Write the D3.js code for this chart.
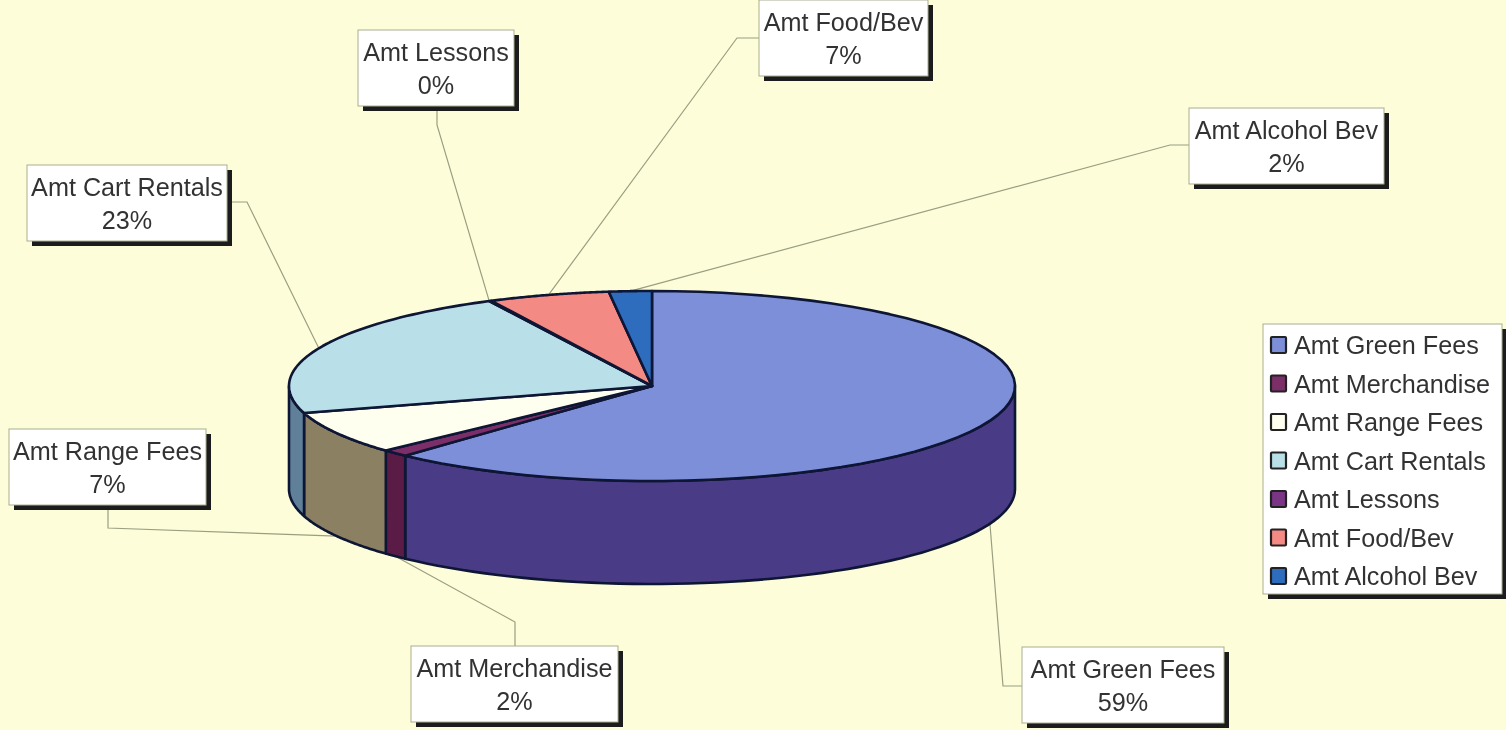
<!DOCTYPE html>
<html><head><meta charset="utf-8">
<script src="https://cdn.jsdelivr.net/npm/d3@7/dist/d3.min.js"></script>
<style>html,body{margin:0;padding:0;background:#fdfdd9;overflow:hidden}svg{display:block}
text{font-family:"Liberation Sans",Arial,sans-serif;fill:#333;font-size:25.2px}</style>
</head><body><svg id="c" width="1506" height="730"></svg>
<script>
// Data
const categories = ["Amt Green Fees","Amt Merchandise","Amt Range Fees","Amt Cart Rentals","Amt Lessons","Amt Food/Bev","Amt Alcohol Bev"];
const percentLabels = ["59%","2%","7%","23%","0%","7%","2%"];
// slice sizes as actually drawn on the ellipse
const sliceShares = [61.9,1.2,7.3,22.2,0.1,5.4,1.9];
const topColors = ["#7d8fd8","#7c2f68","#fffff0","#b9e0e8","#7a3585","#f48a84","#2f6cbe"];
const wallColors = ["#4a3a86","#5a1f46","#8c8064","#60809a","#4a2060","#904040","#1c3f78"];
// layout of the callouts: box [x,y,w,h], elbow [x,y], box exit [x,y]
const boxes = [[1022,647,202,76],[411,646,207,76],[9,429,197,76],[27,165,200,76],[358,30,156,76],[759,0,169,76],[1189,108,195,76]];
const exits = [[1022,686],[515,646],[108,505],[227,202],[437,106],[759,38],[1189,145]];
const elbows = [[1003,686],[515,622],[108,528],[247,202],[437,125],[737,38],[1170,145]];

const W=1506,H=730,cx=652,cy=386,rx=363,ry=95,depth=103;
const svg=d3.select("#c");
const defs=svg.append("defs");
defs.append("filter").attr("id","soft").attr("x","-5%").attr("y","-5%").attr("width","110%").attr("height","110%")
  .append("feGaussianBlur").attr("stdDeviation",0.7);
const root=svg.append("g").attr("filter","url(#soft)");
const OUT="#0e1434";

const px=d3.scaleLinear().domain([-1,1]).range([cx-rx,cx+rx]);
const py=d3.scaleLinear().domain([-1,1]).range([cy-ry,cy+ry]);
const proj=(a,dz=0)=>[px(Math.sin(a)),py(-Math.cos(a))+dz];
const arcs=d3.pie().sort(null).value(d=>d)(sliceShares);
const steps=(a0,a1)=>d3.range(0,61).map(i=>a0+(a1-a0)*i/60);

// leader lines below pie
const line=d3.line();
const lowSide=a=>a>Math.PI/2&&a<3*Math.PI/2;
root.append("g").selectAll("path").data(arcs).join("path")
  .attr("d",(d,i)=>{const m=(i===4)?d.startAngle:(d.startAngle+d.endAngle)/2;
     return line([exits[i],elbows[i],proj(m,lowSide(m)?depth:0)]);})
  .attr("fill","none").attr("stroke","#9a9f80").attr("stroke-width",1.2);

// walls
const HALF=Math.PI/2, TH=3*Math.PI/2;
root.append("g").selectAll("path").data(arcs.filter(d=>d.endAngle>HALF&&d.startAngle<TH)).join("path")
  .attr("d",d=>{const a0=Math.max(d.startAngle,HALF),a1=Math.min(d.endAngle,TH);
     const s=steps(a0,a1);
     return line(s.map(a=>proj(a)).concat(s.slice().reverse().map(a=>proj(a,depth))))+"Z";})
  .attr("fill",d=>wallColors[d.index]).attr("stroke",OUT).attr("stroke-width",2.6).attr("stroke-linejoin","round");

// top face
root.append("g").selectAll("path").data(arcs).join("path")
  .attr("d",d=>line([[cx,cy]].concat(steps(d.startAngle,d.endAngle).map(a=>proj(a))))+"Z")
  .attr("fill",d=>topColors[d.index]).attr("stroke",OUT).attr("stroke-width",2.6).attr("stroke-linejoin","round");

// callouts
const call=root.append("g").selectAll("g").data(categories).join("g");
call.append("rect").attr("x",(d,i)=>boxes[i][0]+5).attr("y",(d,i)=>boxes[i][1]+5)
  .attr("width",(d,i)=>boxes[i][2]).attr("height",(d,i)=>boxes[i][3]).attr("fill","#1e1e1e");
call.append("rect").attr("x",(d,i)=>boxes[i][0]).attr("y",(d,i)=>boxes[i][1])
  .attr("width",(d,i)=>boxes[i][2]).attr("height",(d,i)=>boxes[i][3]).attr("fill","#fff").attr("stroke","#a9ad90").attr("stroke-width",1);
call.append("text").attr("x",(d,i)=>boxes[i][0]+boxes[i][2]/2).attr("y",(d,i)=>boxes[i][1]+31)
  .attr("text-anchor","middle").text(d=>d);
call.append("text").attr("x",(d,i)=>boxes[i][0]+boxes[i][2]/2).attr("y",(d,i)=>boxes[i][1]+64)
  .attr("text-anchor","middle").text((d,i)=>percentLabels[i]);

// legend
const lg=root.append("g");
lg.append("rect").attr("x",1268).attr("y",329).attr("width",238).attr("height",270).attr("fill","#1e1e1e");
lg.append("rect").attr("x",1263).attr("y",324).attr("width",239).attr("height",270).attr("fill","#fff").attr("stroke","#a9ad90");
const ly=d3.scalePoint().domain(categories).range([345,576]);
const item=lg.selectAll("g").data(categories).join("g").attr("transform",d=>`translate(0,${ly(d)})`);
item.append("rect").attr("x",1271).attr("y",-8).attr("width",15).attr("height",16).attr("rx",1)
  .attr("fill",(d,i)=>topColors[i]).attr("stroke","#222").attr("stroke-width",2.2);
item.append("text").attr("x",1294).attr("y",9).text(d=>d);
</script></body></html>
